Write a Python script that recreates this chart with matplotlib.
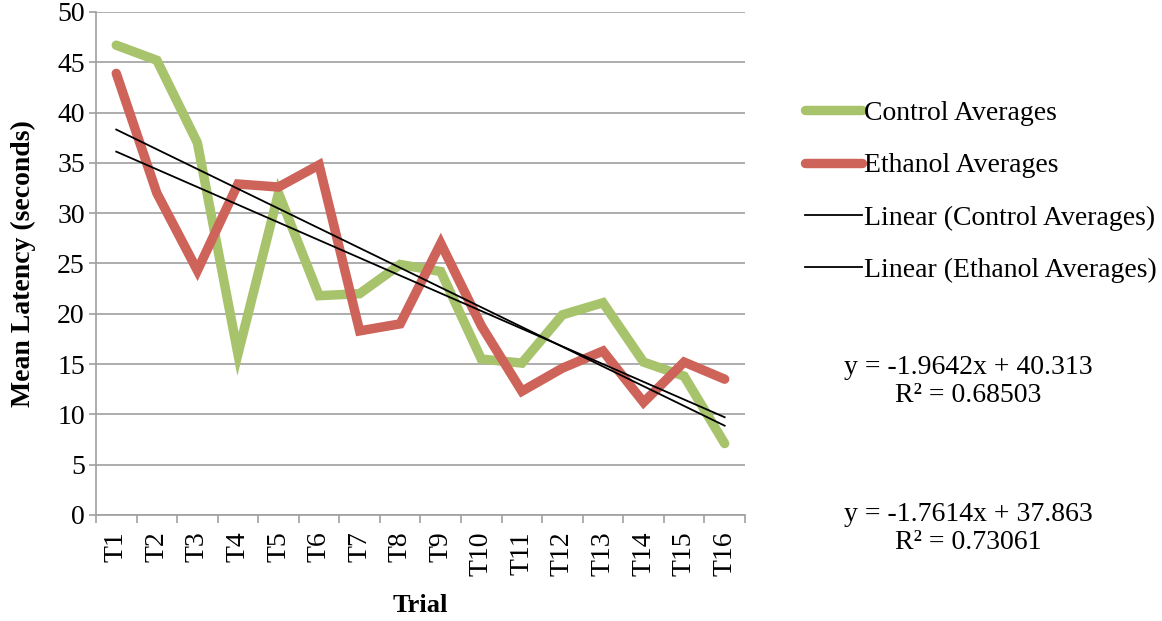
import numpy as np
import matplotlib as mpl
from matplotlib import pyplot as plt

mpl.rcParams['font.family'] = ['Liberation Serif', 'DejaVu Serif']

trials = ['T%d' % i for i in range(1, 17)]
control = [46.7, 45.2, 37.0, 16.0, 32.0, 21.8, 22.0, 24.9,
           24.2, 15.5, 15.1, 19.9, 21.1, 15.2, 13.8, 7.1]
ethanol = [43.9, 32.0, 24.3, 32.9, 32.6, 34.8, 18.3, 19.0,
           27.0, 18.8, 12.3, 14.6, 16.3, 11.2, 15.2, 13.5]
eq_control = ['y = -1.9642x + 40.313', 'R\u00b2 = 0.68503']
eq_ethanol = ['y = -1.7614x + 37.863', 'R\u00b2 = 0.73061']

green = '#A7C36B'
red = '#CE635A'
gridc = '#A0A0A0'
fs = 20

f = plt.figure(figsize = (11.62, 6.21), dpi = 100)
ax1 = f.add_axes([0.0826, 0.1707, 0.5585, 0.8100])

x = np.arange(1, len(trials) + 1)

ax1.plot(x, control, color = green, lw = 6.8, solid_capstyle = 'round',
         solid_joinstyle = 'miter', label = 'Control Averages', zorder = 3)
ax1.plot(x, ethanol, color = red, lw = 6.8, solid_capstyle = 'round',
         solid_joinstyle = 'miter', label = 'Ethanol Averages', zorder = 3)

# linear trendlines from least squares
pc = np.polyfit(x, control, 1)
pe = np.polyfit(x, ethanol, 1)
ax1.plot(x, np.polyval(pc, x), color = 'black', lw = 1.3,
         label = 'Linear (Control Averages)', zorder = 4)
ax1.plot(x, np.polyval(pe, x), color = 'black', lw = 1.3,
         label = 'Linear (Ethanol Averages)', zorder = 4)

ax1.set_xlim(0.5, len(trials) + 0.5)
ax1.set_ylim(0, 50)
ax1.set_yticks(np.arange(0, 51, 5))
ax1.set_xticks(x)
ax1.set_xticklabels(trials, rotation = 90)
ax1.set_xticks(np.arange(0.5, len(trials) + 1, 1.0), minor = True)

ax1.grid(axis = 'y', color = gridc, lw = 1.2)
ax1.set_axisbelow(True)
for s in ['top', 'right']:
    ax1.spines[s].set_visible(False)
for s in ['left', 'bottom']:
    ax1.spines[s].set_color(gridc)
    ax1.spines[s].set_linewidth(1.2)

ax1.tick_params(axis = 'y', which = 'major', length = 5, width = 1.2,
                color = gridc, labelsize = fs, pad = 3)
ax1.tick_params(axis = 'x', which = 'major', length = 0, labelsize = fs, pad = 12)
ax1.tick_params(axis = 'x', which = 'minor', length = 6, width = 1.2,
                color = gridc)

ax1.set_xlabel('Trial', fontsize = 19, fontweight = 'bold', labelpad = 13)
ax1.set_ylabel('Mean Latency (seconds)', fontsize = fs, fontweight = 'bold',
               labelpad = 15)

leg = f.legend(loc = 'upper left', bbox_to_anchor = (0.6928, 0.838),
               frameon = False, fontsize = fs, handlelength = 2.05,
               handletextpad = 0.08, labelspacing = 0.97, borderpad = 0,
               borderaxespad = 0)

f.text(0.833, 0.3857, '\n'.join(eq_control), ha = 'center', va = 'center',
       fontsize = fs, linespacing = 1.12)
f.text(0.833, 0.149, '\n'.join(eq_ethanol), ha = 'center', va = 'center',
       fontsize = fs, linespacing = 1.12)

f.savefig('out.png', dpi = 100)
